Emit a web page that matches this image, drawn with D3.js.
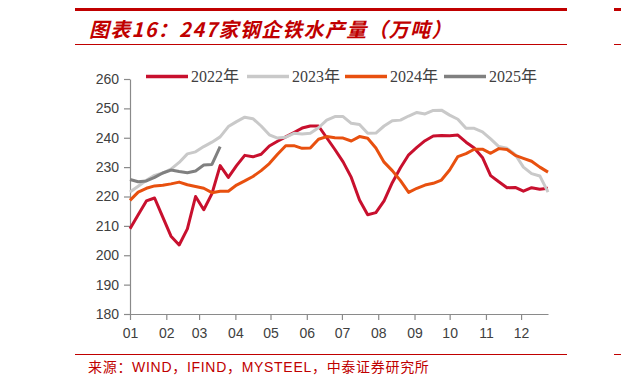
<!DOCTYPE html>
<html><head><meta charset="utf-8">
<script src="https://cdn.jsdelivr.net/npm/d3@7"></script>
<style>
html,body{margin:0;padding:0;background:#fff;}
svg{display:block;}
</style></head>
<body>
<svg id="c" width="621" height="381"></svg>
<script>
const titleText = "图表16：247家钢企铁水产量（万吨）";
const sourceText = "来源：WIND，IFIND，MYSTEEL，中泰证券研究所";
const monthLabels = ["01","02","03","04","05","06","07","08","09","10","11","12"];
const yTicks = [180,190,200,210,220,230,240,250,260];
const seriesNames = ["2022年","2023年","2024年","2025年"];
const seriesColors = ["#c8102e","#c9c9c9","#e8500f","#808080"];

const v2022 = [209,213.8,218.5,219.5,213,206.5,203.5,209,220,215.5,221,230.5,226.5,230.5,234,233.5,234.4,237.2,238.8,240.3,241.8,243.3,244,244,240,236,231.8,226.5,218.8,213.8,214.5,218.5,224.7,229.8,234.2,236.7,239,240.6,240.8,240.7,240.9,238.5,236.5,233.3,227.1,225,223,223.1,221.8,223,222.5,222.8];
const v2023 = [221.5,223.5,225.5,227.2,228,229.3,231.6,234.5,235.2,237,238.5,240.3,243.8,245.5,247,246.5,244,241,239.9,240.2,241.5,241.3,241.5,243.4,246,247.2,247.2,244.9,244.5,241.5,241.6,244,245.8,246,247.4,248.6,248.1,249.3,249.4,247.7,246.3,243.2,243.2,242,239.6,237,236.4,234.3,230,227.8,227,221.5];
const v2024 = [218.7,221.5,222.8,223.6,223.8,224.3,224.9,224,223.4,222.8,221.3,221.8,221.8,223.9,225.3,226.8,228.8,231.2,234.4,237.3,237.3,236.4,236.5,239.5,240.4,240,239.9,238.9,240.4,239.8,236.5,231.7,228.8,225.4,221.4,222.8,223.9,224.5,225.6,229,233.6,234.6,236.1,236.1,234.7,236.3,236,234,233,232,230,228.3];
const v2025 = [225.8,225,225.3,226.5,228,229,228.5,228.1,228.7,230.7,230.9,237];
const allSeries = [v2022, v2023, v2024, v2025];

const svg = d3.select("#c");
const red = "#c00000";

// frame decorations
svg.append("rect").attr("x",75).attr("y",8).attr("width",492).attr("height",3).attr("fill",red);
svg.append("rect").attr("x",614).attr("y",8).attr("width",7).attr("height",3).attr("fill",red);
svg.append("line").attr("x1",75).attr("x2",567).attr("y1",44.5).attr("y2",44.5).attr("stroke",red).attr("stroke-width",1);
svg.append("line").attr("x1",614).attr("x2",621).attr("y1",44.5).attr("y2",44.5).attr("stroke",red).attr("stroke-width",1);
svg.append("line").attr("x1",75).attr("x2",567).attr("y1",354.5).attr("y2",354.5).attr("stroke",red).attr("stroke-width",1);
svg.append("line").attr("x1",614).attr("x2",621).attr("y1",354.5).attr("y2",354.5).attr("stroke",red).attr("stroke-width",1);

svg.append("text").attr("x",89).attr("y",37)
  .attr("font-family","'Noto Sans CJK SC', sans-serif").attr("font-weight","bold")
  .attr("font-style","italic").attr("font-size",20).attr("fill",red)
  .attr("letter-spacing",1.3)
  .text(titleText);

svg.append("text").attr("x",88).attr("y",372)
  .attr("font-family","'Liberation Sans','Noto Sans CJK SC', sans-serif")
  .attr("font-size",14).attr("fill",red).attr("letter-spacing",0.7)
  .text(sourceText);

// scales
const x = d3.scaleTime().domain([new Date(2022,0,1), new Date(2022,11,24)]).range([130,548]);
const y = d3.scaleLinear().domain([180,260]).range([314,79]);
const dateOf = i => new Date(2022,0,1+7*i);
const monthTicks = d3.timeMonth.range(new Date(2022,0,1), new Date(2023,0,1));

const axisColor = "#8a8a8a";
const labelColor = "#404040";

const gy = svg.append("g").attr("transform","translate(130,0)")
  .call(d3.axisLeft(y).tickValues(yTicks).tickSize(6).tickSizeOuter(0).tickPadding(5));
const gx = svg.append("g").attr("transform","translate(0,314)")
  .call(d3.axisBottom(x).tickValues(monthTicks).tickSize(6).tickSizeOuter(0).tickPadding(8)
    .tickFormat((d,i)=>monthLabels[i]));
[gx,gy].forEach(g=>{
  g.selectAll("path,line").attr("stroke",axisColor).attr("stroke-width",1.2);
  g.selectAll("text").attr("font-family","'Liberation Sans', Arial, sans-serif")
    .attr("font-size",14).attr("fill",labelColor);
});

// lines
const line = d3.line().x((d,i)=>x(dateOf(i))).y(d=>y(d));
allSeries.forEach((s,k)=>{
  svg.append("path").datum(s).attr("d",line).attr("fill","none")
    .attr("stroke",seriesColors[k]).attr("stroke-width",3)
    .attr("stroke-linejoin","round");
});

// legend
const legX = [146,247,345,444];
const lg = svg.append("g");
seriesNames.forEach((n,k)=>{
  lg.append("line").attr("x1",legX[k]).attr("x2",legX[k]+42).attr("y1",76.5).attr("y2",76.5)
    .attr("stroke",seriesColors[k]).attr("stroke-width",3.5);
  lg.append("text").attr("x",legX[k]+45).attr("y",82)
    .attr("font-family","'Liberation Serif','Noto Sans CJK SC', serif")
    .attr("font-size",16).attr("fill",labelColor).text(n);
});
</script>
</body></html>
